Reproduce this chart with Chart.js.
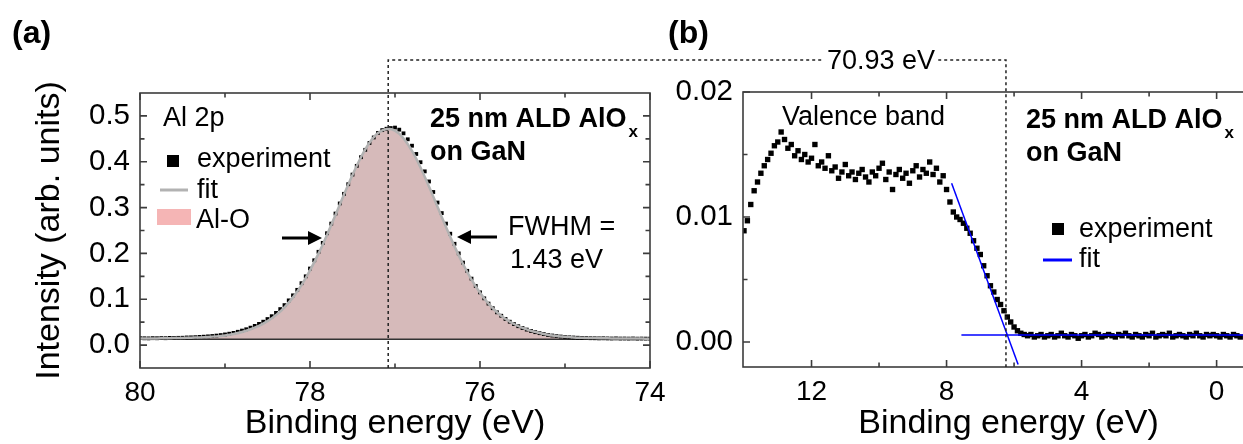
<!DOCTYPE html>
<html>
<head>
<meta charset="utf-8">
<script src="https://cdn.jsdelivr.net/npm/chart.js@4.4.1/dist/chart.umd.min.js"></script>
<style>
  html, body { margin: 0; padding: 0; background: #fff; overflow: hidden; width: 1243px; height: 444px; }
  canvas { position: absolute; top: 0; }
  #ca { left: 0; }
  #cb { left: 660px; }
  #ov { left: 0; pointer-events: none; }
</style>
</head>
<body>
<canvas id="ca" width="700" height="444"></canvas>
<canvas id="cb" width="618" height="444"></canvas>
<canvas id="ov" width="1243" height="444"></canvas>
<script>
// ---- (a) Al 2p core level ----
const alExpE = [80,79.95,79.9,79.85,79.8,79.75,79.7,79.65,79.6,79.55,
  79.5,79.45,79.4,79.35,79.3,79.25,79.2,79.15,79.1,79.05,
  79,78.95,78.9,78.85,78.8,78.75,78.7,78.65,78.6,78.55,
  78.5,78.45,78.4,78.35,78.3,78.25,78.2,78.15,78.1,78.05,
  78,77.95,77.9,77.85,77.8,77.75,77.7,77.65,77.6,77.55,
  77.5,77.45,77.4,77.35,77.3,77.25,77.2,77.15,77.1,77.05,
  77,76.95,76.9,76.85,76.8,76.75,76.7,76.65,76.6,76.55,
  76.5,76.45,76.4,76.35,76.3,76.25,76.2,76.15,76.1,76.05,
  76,75.95,75.9,75.85,75.8,75.75,75.7,75.65,75.6,75.55,
  75.5,75.45,75.4,75.35,75.3,75.25,75.2,75.15,75.1,75.05,
  75,74.95,74.9,74.85,74.8,74.75,74.7,74.65,74.6,74.55,
  74.5,74.45,74.4,74.35,74.3,74.25,74.2,74.15,74.1,74.05,
  74];
const alExpI = [0.0150,0.0148,0.0146,0.0151,0.0149,0.0152,0.0150,0.0156,0.0155,0.0158,
  0.0160,0.0166,0.0168,0.0172,0.0178,0.0183,0.0190,0.0198,0.0207,0.0218,
  0.0232,0.0248,0.0266,0.0290,0.0316,0.0345,0.0380,0.0418,0.0462,0.0510,
  0.0568,0.0630,0.0702,0.0785,0.0872,0.0975,0.1085,0.1205,0.1350,0.1500,
  0.1670,0.1850,0.2035,0.2230,0.2440,0.2650,0.2870,0.3090,0.3300,0.3510,
  0.3720,0.3910,0.4100,0.4260,0.4410,0.4530,0.4630,0.4690,0.4720,0.4735,
  0.4745,0.4700,0.4620,0.4490,0.4350,0.4170,0.3990,0.3790,0.3570,0.3340,
  0.3110,0.2880,0.2650,0.2430,0.2210,0.2000,0.1800,0.1620,0.1450,0.1290,
  0.1150,0.1020,0.0905,0.0805,0.0715,0.0640,0.0570,0.0510,0.0458,0.0412,
  0.0372,0.0338,0.0308,0.0282,0.0260,0.0240,0.0222,0.0208,0.0196,0.0186,
  0.0178,0.0170,0.0165,0.0160,0.0157,0.0153,0.0150,0.0149,0.0146,0.0148,
  0.0145,0.0143,0.0146,0.0142,0.0143,0.0141,0.0144,0.0140,0.0142,0.0141,
  0.0140];
const alFitE = [80,79.9,79.8,79.7,79.6,79.5,79.4,79.3,79.2,79.1,
  79,78.9,78.8,78.7,78.6,78.5,78.4,78.3,78.2,78.1,
  78,77.9,77.8,77.7,77.6,77.5,77.4,77.3,77.2,77.1,
  77,76.9,76.8,76.7,76.6,76.5,76.4,76.3,76.2,76.1,
  76,75.9,75.8,75.7,75.6,75.5,75.4,75.3,75.2,75.1,
  75,74.9,74.8,74.7,74.6,74.5,74.4,74.3,74.2,74.1,
  74];
const alFitI = [0.0142,0.0144,0.0146,0.0149,0.0152,0.0156,0.0161,0.0168,0.0177,0.0190,
  0.0210,0.0240,0.0285,0.0345,0.0420,0.0523,0.0654,0.0825,0.1041,0.1309,
  0.1628,0.1995,0.2404,0.2840,0.3284,0.3713,0.4099,0.4413,0.4626,0.4717,
  0.4678,0.4511,0.4235,0.3875,0.3459,0.3018,0.2576,0.2154,0.1769,0.1430,
  0.1142,0.0906,0.0717,0.0571,0.0460,0.0375,0.0310,0.0262,0.0225,0.0198,
  0.0180,0.0168,0.0160,0.0154,0.0150,0.0147,0.0145,0.0143,0.0142,0.0141,
  0.0140];
const alBgE = [80, 74];
const alBgI = [0.013, 0.013];
const alPeakE = 77.08;
const aXTicks = [80, 78, 76, 74];
const aXMinor = [79, 77, 75];
const aYTicks = [0.0, 0.1, 0.2, 0.3, 0.4, 0.5];
const aYMinor = [0.05, 0.15, 0.25, 0.35, 0.45];

// ---- (b) valence band ----
const vbE = [14,13.9,13.8,13.7,13.6,13.5,13.4,13.3,13.2,13.1,
  13,12.9,12.8,12.7,12.6,12.5,12.4,12.3,12.2,12.1,
  12,11.9,11.8,11.7,11.6,11.5,11.4,11.3,11.2,11.1,
  11,10.9,10.8,10.7,10.6,10.5,10.4,10.3,10.2,10.1,
  10,9.9,9.8,9.7,9.6,9.5,9.4,9.3,9.2,9.1,
  9,8.9,8.8,8.7,8.6,8.5,8.4,8.3,8.2,8.1,
  8,7.9,7.8,7.7,7.6,7.5,7.4,7.3,7.2,7.1,
  7,6.9,6.8,6.7,6.6,6.5,6.4,6.3,6.2,6.1,
  6,5.9,5.8,5.7,5.6,5.5,5.4,5.3,5.2,5.1,
  5,4.9,4.8,4.7,4.6,4.5,4.4,4.3,4.2,4.1,
  4,3.9,3.8,3.7,3.6,3.5,3.4,3.3,3.2,3.1,
  3,2.9,2.8,2.7,2.6,2.5,2.4,2.3,2.2,2.1,
  2,1.9,1.8,1.7,1.6,1.5,1.4,1.3,1.2,1.1,
  1,0.9,0.8,0.7,0.6,0.5,0.4,0.3,0.2,0.1,
  0,-0.1,-0.2,-0.3,-0.4,-0.5,-0.6,-0.7];
const vbI = [0.0089,0.0097,0.0110,0.0121,0.0128,0.0135,0.0141,0.0146,0.0151,0.0157,
  0.0160,0.0168,0.0162,0.0155,0.0158,0.0149,0.0153,0.0146,0.0150,0.0144,
  0.0147,0.0158,0.0141,0.0144,0.0139,0.0149,0.0137,0.0140,0.0131,0.0136,
  0.0142,0.0133,0.0136,0.0130,0.0135,0.0138,0.0132,0.0128,0.0136,0.0133,
  0.0139,0.0143,0.0130,0.0136,0.0122,0.0134,0.0138,0.0131,0.0135,0.0127,
  0.0137,0.0141,0.0132,0.0138,0.0135,0.0144,0.0134,0.0139,0.0128,0.0133,
  0.0122,0.0112,0.0104,0.0100,0.0098,0.0095,0.0091,0.0087,0.0081,0.0075,
  0.0070,0.0061,0.0053,0.0045,0.0040,0.0034,0.0030,0.0025,0.0020,0.0016,
  0.0012,0.0009,0.0007,0.0006,0.0005,0.0006,0.0004,0.0005,0.0006,0.0004,
  0.0005,0.0006,0.0004,0.0005,0.0007,0.0005,0.0004,0.0006,0.0005,0.0003,
  0.0005,0.0006,0.0004,0.0005,0.0007,0.0006,0.0004,0.0005,0.0006,0.0005,
  0.0004,0.0006,0.0005,0.0007,0.0005,0.0004,0.0006,0.0005,0.0004,0.0006,
  0.0005,0.0007,0.0004,0.0005,0.0006,0.0005,0.0007,0.0004,0.0005,0.0006,
  0.0005,0.0004,0.0006,0.0005,0.0007,0.0005,0.0004,0.0006,0.0005,0.0006,
  0.0005,0.0004,0.0006,0.0005,0.0004,0.0006,0.0005,0.0004];
const vbSlopeE = [7.85, 5.88];
const vbSlopeI = [0.0127, -0.0018];
const vbBaseE = [7.56, -1.7];
const vbBaseI = [0.00056, 0.00056];
const vbEdgeE = 6.24;
const bXTicks = [12, 8, 4, 0];
const bXMinor = [10, 6, 2];
const bYTicks = [0.0, 0.01, 0.02];
const bYMinor = [0.005, 0.015];

const FONT = '"Liberation Sans", Arial, Helvetica, sans-serif';
const pts = (xs, ys) => xs.map((x, i) => ({ x, y: ys[i] }));

// inward ticks on every side + box frame
function framePlugin(xMajor, xMinor, yMajor, yMinor) {
  return {
    id: 'frame',
    afterDatasetsDraw(chart) {
      const { ctx, chartArea: a, scales: { x, y } } = chart;
      ctx.save();
      ctx.strokeStyle = '#3c3c3c';
      ctx.lineWidth = 1.6;
      ctx.strokeRect(a.left, a.top, a.right - a.left, a.bottom - a.top);
      ctx.beginPath();
      const xt = (vals, len) => vals.forEach(v => {
        const p = x.getPixelForValue(v);
        ctx.moveTo(p, a.bottom); ctx.lineTo(p, a.bottom - len);
        ctx.moveTo(p, a.top); ctx.lineTo(p, a.top + len);
      });
      const yt = (vals, len) => vals.forEach(v => {
        const p = y.getPixelForValue(v);
        ctx.moveTo(a.left, p); ctx.lineTo(a.left + len, p);
        ctx.moveTo(a.right, p); ctx.lineTo(a.right - len, p);
      });
      xt(xMajor, 7); xt(xMinor, 4.5);
      yt(yMajor, 7); yt(yMinor, 4.5);
      ctx.stroke();
      ctx.restore();
    }
  };
}

function axisX(min, max, ticks, height, fmt) {
  return {
    type: 'linear', reverse: true, min, max,
    afterBuildTicks: s => { s.ticks = ticks.map(v => ({ value: v })); },
    afterFit: s => { s.height = height; },
    grid: { display: false, drawTicks: false }, border: { display: false },
    ticks: { color: '#000', font: { family: FONT, size: 28 }, padding: 8, maxRotation: 0, autoSkip: false, callback: fmt },
    title: { display: true, text: 'Binding energy (eV)', color: '#000', font: { family: FONT, size: 34 }, padding: { top: 0, bottom: 0 } }
  };
}

function axisY(min, max, ticks, width, fmt, title) {
  return {
    type: 'linear', min, max,
    afterBuildTicks: s => { s.ticks = ticks.map(v => ({ value: v })); },
    afterFit: s => { s.width = width; },
    grid: { display: false, drawTicks: false }, border: { display: false },
    ticks: { color: '#000', font: { family: FONT, size: 29.5 }, padding: 10, autoSkip: false, callback: fmt },
    title: title ? { display: true, text: title, color: '#000', font: { family: FONT, size: 34 }, padding: { top: 29, bottom: 0 } } : { display: false }
  };
}

const common = {
  responsive: false, animation: false, events: [],
  plugins: { legend: { display: false }, tooltip: { enabled: false } }
};

const chartA = new Chart(document.getElementById('ca'), {
  type: 'scatter',
  data: {
    datasets: [
      { data: pts(alFitE, alFitI), showLine: true, borderColor: '#b2b2b2', borderWidth: 2.5, pointRadius: 0, tension: 0.3 },
      { data: pts(alExpE, alExpI), pointStyle: 'rect', pointRadius: 2.7, backgroundColor: '#000', borderWidth: 0 },
      { data: pts(alBgE, alBgI), showLine: true, borderColor: '#333', borderWidth: 1.5, pointRadius: 0 },
      { data: pts(alFitE, alFitI), showLine: true, borderColor: 'transparent', borderWidth: 0, pointRadius: 0,
        tension: 0.3, fill: { value: 0.013 }, backgroundColor: 'rgb(214,186,186)' }
    ]
  },
  options: {
    ...common,
    layout: { padding: { left: 0, top: 93, right: 50, bottom: 0 } },
    scales: {
      x: axisX(74, 80, aXTicks, 76, v => String(v)),
      y: axisY(-0.05, 0.55, aYTicks, 140, v => v.toFixed(1), 'Intensity (arb. units)')
    }
  },
  plugins: [framePlugin(aXTicks, aXMinor, aYTicks, aYMinor)]
});

const chartB = new Chart(document.getElementById('cb'), {
  type: 'scatter',
  data: {
    datasets: [
      { data: pts(vbSlopeE, vbSlopeI), showLine: true, borderColor: '#0000ff', borderWidth: 1.5, pointRadius: 0 },
      { data: pts(vbBaseE, vbBaseI), showLine: true, borderColor: '#0000ff', borderWidth: 1.5, pointRadius: 0 },
      { data: pts(vbE, vbI), pointStyle: 'rect', pointRadius: 3.8, backgroundColor: '#000', borderWidth: 0 }
    ]
  },
  options: {
    ...common,
    layout: { padding: { left: 0, top: 92, right: 0, bottom: 0 } },
    scales: {
      x: axisX(-1.7, 14.03, bXTicks, 77, v => String(v)),
      y: axisY(-0.002, 0.02, bYTicks, 83, v => v.toFixed(2), null)
    }
  },
  plugins: [framePlugin(bXTicks, bXMinor, bYTicks, bYMinor)]
});

// ---- overlay: connector, labels, legends ----
const ov = document.getElementById('ov').getContext('2d');
const BX = 660;
const xa = chartA.scales.x.getPixelForValue(alPeakE);
const xb = BX + chartB.scales.x.getPixelForValue(vbEdgeE);
const yTop = 60;

ov.save();
ov.setLineDash([3, 3]);
ov.lineWidth = 1.5;
ov.strokeStyle = '#222';
ov.beginPath();
ov.moveTo(xa, chartA.chartArea.bottom);
ov.lineTo(xa, yTop);
ov.lineTo(xb, yTop);
ov.lineTo(xb, chartB.chartArea.bottom);
ov.stroke();
ov.restore();

function txt(s, x, y, size, bold, align) {
  ov.font = (bold ? 'bold ' : '') + size + 'px ' + FONT;
  ov.fillStyle = '#000';
  ov.textAlign = align || 'left';
  ov.textBaseline = 'alphabetic';
  ov.fillText(s, x, y);
  return ov.measureText(s).width;
}

function sample(x, y) {
  const w = txt('25 nm ALD AlO', x, y, 27, true);
  txt('x', x + w + 2, y + 10, 17, true);
  txt('on GaN', x, y + 33, 27, true);
}

function arrow(x0, x1, y) {
  const dir = Math.sign(x1 - x0);
  ov.save();
  ov.strokeStyle = '#000'; ov.fillStyle = '#000'; ov.lineWidth = 3;
  ov.beginPath(); ov.moveTo(x0, y); ov.lineTo(x1 - dir * 10, y); ov.stroke();
  ov.beginPath(); ov.moveTo(x1, y); ov.lineTo(x1 - dir * 14, y - 7); ov.lineTo(x1 - dir * 14, y + 7); ov.closePath(); ov.fill();
  ov.restore();
}

// 70.93 eV label on the connector
ov.font = '27px ' + FONT;
const lw = ov.measureText('70.93 eV').width;
ov.fillStyle = '#fff';
ov.fillRect(881 - lw / 2 - 3, 45, lw + 6, 30);
txt('70.93 eV', 881, 69, 27, false, 'center');

// panel (a)
txt('(a)', 12, 43, 32, true);
txt('Al 2p', 163, 126, 27);
ov.fillStyle = '#000'; ov.fillRect(167, 155, 12, 12);
txt('experiment', 197, 167, 27);
ov.save(); ov.strokeStyle = '#b2b2b2'; ov.lineWidth = 3;
ov.beginPath(); ov.moveTo(160, 190); ov.lineTo(188, 190); ov.stroke(); ov.restore();
txt('fit', 197, 198, 27);
ov.fillStyle = '#f5b5b5'; ov.fillRect(157, 209, 34, 16);
txt('Al-O', 196, 228, 27);
sample(430, 127);
txt('FWHM =', 508, 235, 27);
txt('1.43 eV', 510, 268, 27);
arrow(282, 322, 238);
arrow(497, 457, 237);

// panel (b)
txt('(b)', 668, 43, 32, true);
txt('Valence band', 782, 125, 27);
sample(1026, 128);
ov.fillStyle = '#000'; ov.fillRect(1052, 223, 12, 12);
txt('experiment', 1079, 237, 27);
ov.save(); ov.strokeStyle = '#0000ff'; ov.lineWidth = 3;
ov.beginPath(); ov.moveTo(1043, 260); ov.lineTo(1072, 260); ov.stroke(); ov.restore();
txt('fit', 1079, 267, 27);
</script>
</body>
</html>
